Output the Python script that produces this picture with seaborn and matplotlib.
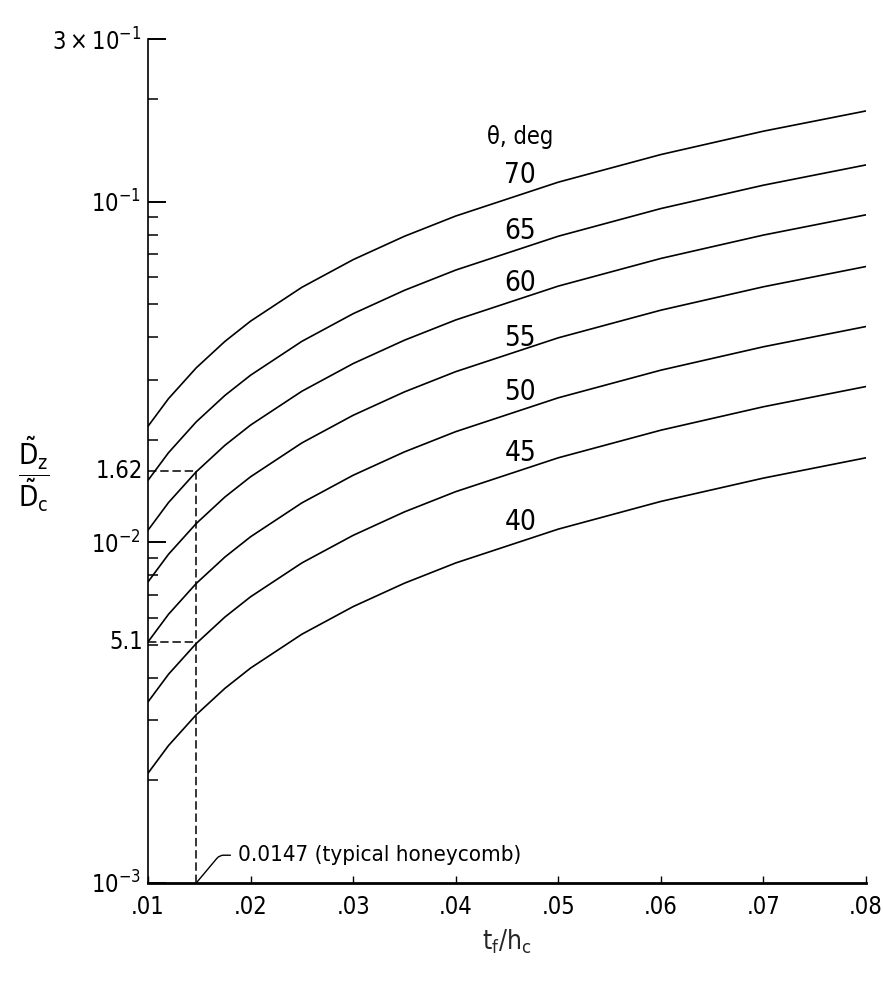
import numpy as np
import pandas as pd
import matplotlib
matplotlib.use("Agg")
import matplotlib.pyplot as plt
import matplotlib.transforms as mtransforms
from matplotlib.ticker import FixedLocator, FixedFormatter, NullFormatter
import seaborn as sns

# ---------------- data ----------------
tf_hc = [0.01, 0.012, 0.0147, 0.0175, 0.02, 0.025, 0.03, 0.035, 0.04, 0.05, 0.06, 0.07, 0.08]
theta_deg = [70, 65, 60, 55, 50, 45, 40]
ratio_70 = [0.0219, 0.02640, 0.03250, 0.03887, 0.04457, 0.05602, 0.06753, 0.07909, 0.09069, 0.1140, 0.1374, 0.1609, 0.1845]
ratio_65 = [0.0152, 0.01832, 0.02256, 0.02698, 0.03093, 0.03888, 0.04687, 0.05489, 0.06294, 0.07912, 0.09538, 0.1117, 0.1281]
ratio_60 = [0.01085, 0.01308, 0.01610, 0.01926, 0.02208, 0.02775, 0.03346, 0.03918, 0.04493, 0.05648, 0.06808, 0.07974, 0.09143]
ratio_55 = [0.00765, 0.009222, 0.01135, 0.01358, 0.01557, 0.01957, 0.02359, 0.02763, 0.03168, 0.03982, 0.04800, 0.05622, 0.06447]
ratio_50 = [0.0051, 0.006148, 0.007569, 0.009051, 0.01038, 0.01305, 0.01573, 0.01842, 0.02112, 0.02655, 0.03200, 0.03748, 0.04298]
ratio_45 = [0.0034, 0.004099, 0.005046, 0.006034, 0.006919, 0.008697, 0.01048, 0.01228, 0.01408, 0.01770, 0.02133, 0.02499, 0.02865]
ratio_40 = [0.0021, 0.002532, 0.003117, 0.003727, 0.004274, 0.005372, 0.006475, 0.007584, 0.008696, 0.01093, 0.01318, 0.01543, 0.01770]

typical_honeycomb = 0.0147
ref_high = 0.0162   # labelled 1.62 (x 10^-2)
ref_low = 0.0051    # labelled 5.1 (x 10^-3)

x_ticks = [0.01, 0.02, 0.03, 0.04, 0.05, 0.06, 0.07, 0.08]
x_tick_labels = [".01", ".02", ".03", ".04", ".05", ".06", ".07", ".08"]
y_major = [1e-3, 1e-2, 1e-1, 3e-1]
y_major_labels = [r"$10^{-3}$", r"$10^{-2}$", r"$10^{-1}$", r"$3\times10^{-1}$"]

series = [ratio_70, ratio_65, ratio_60, ratio_55, ratio_50, ratio_45, ratio_40]
df = pd.DataFrame(
    [(x, th, v) for th, vals in zip(theta_deg, series) for x, v in zip(tf_hc, vals)],
    columns=["tf_hc", "theta", "ratio"],
)

# ---------------- styling ----------------
sns.set_style("white")
plt.rcParams["font.family"] = ["DejaVu Sans"]
plt.rcParams["font.stretch"] = "condensed"
plt.rcParams["mathtext.fontset"] = "custom"
plt.rcParams["mathtext.rm"] = "DejaVu Sans:stretch=condensed"
plt.rcParams["mathtext.it"] = "DejaVu Sans:stretch=condensed"
plt.rcParams["mathtext.bf"] = "DejaVu Sans:bold:stretch=condensed"
plt.rcParams["text.color"] = "black"

fig = plt.figure(figsize=(8.83, 9.84), dpi=100)
ax = fig.add_axes([148 / 883, 1 - 883 / 984, (866 - 148) / 883, (883 - 39) / 984])

sns.lineplot(
    data=df, x="tf_hc", y="ratio", hue="theta",
    palette={t: "black" for t in theta_deg}, legend=False, linewidth=1.2, ax=ax,
)

ax.set_yscale("log")
ax.set_xlim(0.01, 0.08)
ax.set_ylim(1e-3, 3e-1)

for s in ["top", "right"]:
    ax.spines[s].set_visible(False)
ax.spines["left"].set_linewidth(1.2)
ax.spines["bottom"].set_linewidth(2.0)
ax.spines["left"].set_color("black")
ax.spines["bottom"].set_color("black")

ax.set_xticks(x_ticks)
ax.set_xticklabels(x_tick_labels, fontsize=17)
ax.yaxis.set_major_locator(FixedLocator(y_major))
ax.yaxis.set_major_formatter(FixedFormatter(y_major_labels))
minor = [m * 10.0 ** e for e in (-3, -2) for m in range(2, 10)] + [0.2]
ax.yaxis.set_minor_locator(FixedLocator(minor))
ax.yaxis.set_minor_formatter(NullFormatter())
ax.tick_params(axis="both", which="both", left=True, bottom=True)
ax.tick_params(axis="y", which="major", direction="in", length=13, width=1.4,
               pad=5, labelsize=17, colors="black")
ax.tick_params(axis="y", which="minor", direction="in", length=7, width=1.1,
               colors="black")
ax.tick_params(axis="x", which="major", direction="in", length=5, width=1.0,
               pad=9, labelsize=17, colors="black")
ax.tick_params(axis="x", which="minor", bottom=False)
ax.set_xlabel(r"$\mathregular{t_f/h_c}$", fontsize=19, labelpad=6)
ax.set_ylabel("")

# special y labels 1.62 and 5.1
btrans = mtransforms.blended_transform_factory(ax.transAxes, ax.transData)
ax.text(-0.007, ref_high, "1.62", transform=btrans, ha="right", va="center", fontsize=17)
ax.text(-0.007, ref_low, "5.1", transform=btrans, ha="right", va="center", fontsize=17)

# dashed reference lines
dash = dict(color="black", linewidth=1.1, linestyle=(0, (5.5, 2.5)))
ax.plot([tf_hc[0], typical_honeycomb], [ref_high, ref_high], **dash)
ax.plot([tf_hc[0], typical_honeycomb], [ref_low, ref_low], **dash)
ax.plot([typical_honeycomb, typical_honeycomb], [1e-3, ref_high], **dash)

# annotation for typical honeycomb
ax.annotate(
    "0.0147 (typical honeycomb)", xy=(typical_honeycomb, 1e-3),
    xytext=(30, 20), textcoords="offset points", ha="left", va="center",
    fontsize=16,
    arrowprops=dict(arrowstyle="-", color="black", linewidth=1.0,
                    connectionstyle="angle,angleA=0,angleB=50,rad=4",
                    relpos=(0, 0.5), shrinkA=3, shrinkB=0),
)

# curve labels
label_x = 0.0463
label_y = [0.1199, 0.0818, 0.0577, 0.0399, 0.0276, 0.0183, 0.0115]
for th, ly in zip(theta_deg, label_y):
    ax.text(label_x, ly, str(th), ha="center", va="center", fontsize=20)
ax.text(label_x, 0.1547, "θ, deg", ha="center", va="center", fontsize=17)

# y label as a fraction
fig.text(34 / 883, 1 - 474 / 984, r"$\dfrac{\tilde{\mathregular{D}}_{\mathregular{z}}}{\tilde{\mathregular{D}}_{\mathregular{c}}}$",
         ha="center", va="center", fontsize=20)

fig.savefig("out.png", dpi=100, facecolor="white")
